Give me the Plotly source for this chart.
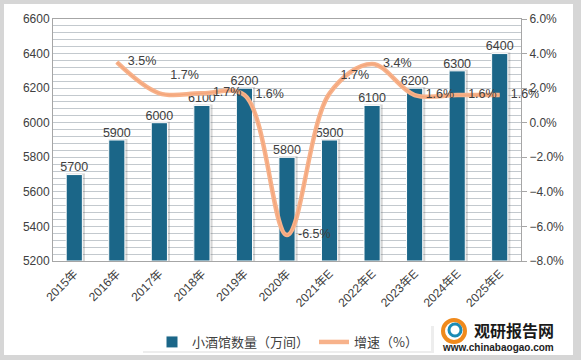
import plotly.graph_objects as go

years = ["2015年", "2016年", "2017年", "2018年", "2019年", "2020年",
         "2021年E", "2022年E", "2023年E", "2024年E", "2025年E"]
counts = [5700, 5900, 6000, 6100, 6200, 5800, 5900, 6100, 6200, 6300, 6400]
growth = [None, 3.5, 1.7, 1.7, 1.6, -6.5, 1.7, 3.4, 1.6, 1.6, 1.6]
growth_text = ["", "3.5%", "1.7%", "1.7%", "1.6%", "-6.5%", "1.7%", "3.4%", "1.6%", "1.6%", "1.6%"]
growth_pos = ["middle right", "middle right", "top right", "middle right", "middle right",
              "middle right", "top right", "middle right", "middle right", "middle right",
              "middle right"]

W, H = 581, 360
L, R, T, B = 53, 60, 19, 99
PW, PH = W - L - R, H - T - B
BASE = 5200

def px(x):
    return (x - L) / PW

def py(y):
    return (H - B - y) / PH

FONT = "Liberation Sans, Noto Sans CJK SC, sans-serif"
TXT = "#404040"

fig = go.Figure()

# bar shadow
fig.add_trace(go.Bar(
    x=years, y=[c - BASE + 6 for c in counts], base=BASE, width=0.44, offset=-0.19,
    marker=dict(color="rgba(90,90,90,0.25)", line=dict(width=0)),
    showlegend=False, hoverinfo="skip"))

fig.add_trace(go.Bar(
    x=years, y=[c - BASE for c in counts], base=BASE, width=0.38, offset=-0.19,
    name="小酒馆数量（万间）",
    marker=dict(color="#1b6688", line=dict(color="white", width=1)),
    showlegend=True))

# bar labels
fig.add_trace(go.Scatter(
    x=years, y=counts, mode="text", text=[str(c) for c in counts],
    textposition="top center", textfont=dict(size=12.5, color=TXT, family=FONT),
    showlegend=False, hoverinfo="skip", cliponaxis=False))

fig.add_trace(go.Scatter(
    x=years, y=growth, yaxis="y2", mode="lines", name="增速（%）",
    line=dict(color="#f7b28b", width=4.5, shape="spline", smoothing=1.0),
    connectgaps=False))
fig.add_trace(go.Scatter(
    x=years, y=growth, yaxis="y2", mode="lines+markers+text", showlegend=False,
    line=dict(color="#f4a57a", width=1.2, shape="spline", smoothing=1.0),
    marker=dict(size=16, color="rgba(0,0,0,0)", line=dict(width=0)),
    text=growth_text, textposition=growth_pos, cliponaxis=False,
    textfont=dict(size=12.5, color=TXT, family=FONT), hoverinfo="skip"))

shapes = [
    dict(type="rect", xref="paper", yref="paper", layer="below",
         x0=px(4), x1=px(573), y0=py(355), y1=py(4),
         fillcolor="white", line=dict(width=0)),
    # legend shadow
    dict(type="rect", xref="paper", yref="paper", layer="below",
         x0=px(143), x1=px(434), y0=py(353), y1=py(326),
         fillcolor="rgba(0,0,0,0.07)", line=dict(width=0)),
    dict(type="rect", xref="paper", yref="paper", layer="below",
         x0=px(141), x1=px(431), y0=py(351), y1=py(324),
         fillcolor="white", line=dict(width=0)),
    # logo icon
    dict(type="circle", xref="paper", yref="paper",
         x0=px(443), x1=px(465), y0=py(342), y1=py(320),
         fillcolor="rgba(0,0,0,0)", line=dict(color="#f08a1c", width=4)),
    dict(type="circle", xref="paper", yref="paper",
         x0=px(449), x1=px(461), y0=py(336), y1=py(324),
         fillcolor="rgba(0,0,0,0)", line=dict(color="#1b8bb5", width=3)),
]

annotations = [
    dict(text="<b>观研报告网</b>", xref="paper", yref="paper", x=px(514), y=py(330),
         showarrow=False, font=dict(size=16, color="#1a1a1a", family="Noto Sans CJK SC"),
         xanchor="center", yanchor="middle"),
    dict(text="<b>www.chinabaogao.com</b>", xref="paper", yref="paper", x=px(498), y=py(347),
         showarrow=False, font=dict(size=10, color="#222222", family="Liberation Sans"),
         xanchor="center", yanchor="middle"),
]

fig.update_layout(
    width=W, height=H,
    margin=dict(l=L, r=R, t=T, b=B, autoexpand=False),
    paper_bgcolor="#d6d6d6",
    plot_bgcolor="#eaf1f6",
    barmode="overlay",
    font=dict(family=FONT, size=12, color=TXT),
    shapes=shapes,
    annotations=annotations,
    xaxis=dict(
        type="category", range=[-0.5, 10.5], tickangle=-45, automargin=False,
        showline=True, linecolor="#a6a6a6", linewidth=1, mirror=True,
        ticks="", tickfont=dict(size=12, color=TXT, family=FONT),
        showgrid=False),
    yaxis=dict(
        range=[5200, 6600], tickvals=list(range(5200, 6601, 200)), automargin=False,
        showline=True, linecolor="#a6a6a6", linewidth=1, mirror=True,
        showgrid=True, gridcolor="#c3c9ce", gridwidth=1,
        minor=dict(dtick=40, showgrid=True, gridcolor="#c3c9ce", gridwidth=1),
        ticks="", tickfont=dict(size=12, color=TXT, family=FONT), zeroline=False),
    yaxis2=dict(
        range=[-8, 6], dtick=2, overlaying="y", side="right", automargin=False,
        tickformat=".1f", ticksuffix="%",
        showgrid=False, zeroline=False,
        showline=True, linecolor="#a6a6a6", linewidth=1,
        ticks="outside", ticklen=5, tickcolor="#a6a6a6",
        tickfont=dict(size=12, color=TXT, family=FONT)),
    legend=dict(
        orientation="h", x=px(152), y=py(327), xanchor="left", yanchor="top",
        bgcolor="rgba(0,0,0,0)", font=dict(size=13, color=TXT, family="Noto Sans CJK SC"),
        traceorder="normal", itemwidth=30),
)

post = ("document.body.style.margin='0';document.body.style.padding='0';"
        "document.body.style.overflow='hidden';"
        "var gd=document.getElementById('{plot_id}');"
        "Plotly.relayout(gd,{width:581,height:360});")

fig.write_html("out.html", post_script=post,
               config={"responsive": False, "displayModeBar": False})
